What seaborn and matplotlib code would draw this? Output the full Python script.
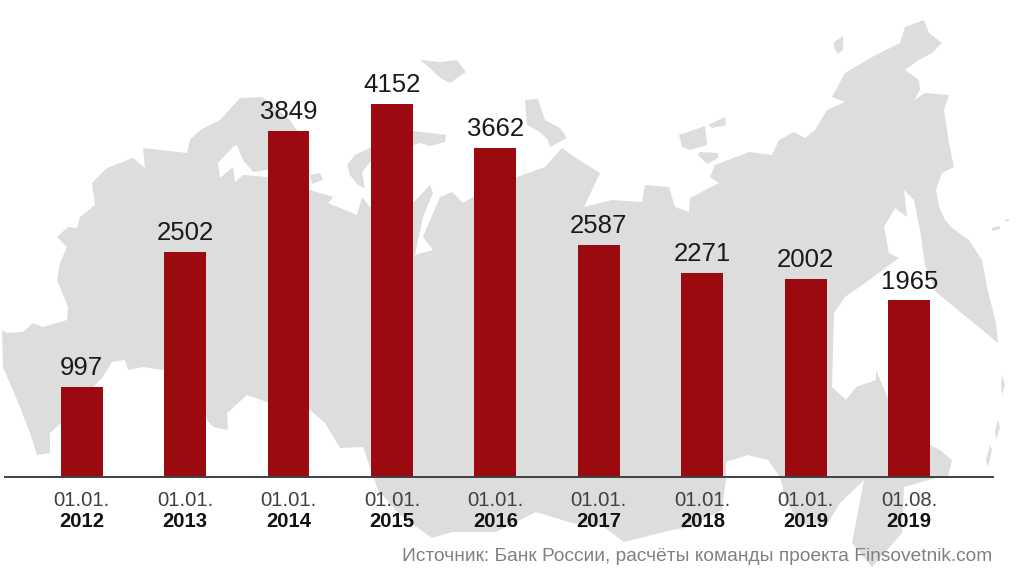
import matplotlib
matplotlib.use('Agg')
import pandas as pd
import seaborn as sns
import matplotlib.pyplot as plt

# данные
dates = ['01.01.', '01.01.', '01.01.', '01.01.', '01.01.', '01.01.', '01.01.', '01.01.', '01.08.']
years = ['2012', '2013', '2014', '2015', '2016', '2017', '2018', '2019', '2019']
bar_heights = [997, 2502, 3849, 4152, 3662, 2587, 2271, 2204, 1965]  # высота столбцов как нарисовано
value_labels = ['997', '2502', '3849', '4152', '3662', '2587', '2271', '2002', '1965']
source = 'Источник: Банк России, расчёты команды проекта Finsovetnik.com'

# контур карты на фоне, в пикселях картинки
map_outline = [
    (2, 330), (7, 333), (23, 332), (33, 323), (43, 327), (67, 320), (68, 307), (57, 280), (60, 263), (67, 247),
    (57, 237), (68, 227), (77, 228), (80, 217), (95, 205), (92, 183), (107, 168), (133, 158), (145, 168), (143, 148),
    (187, 153), (190, 140), (200, 130), (220, 120), (240, 98), (262, 97), (290, 120), (300, 135), (267, 170), (253, 172),
    (243, 160), (237, 145), (233, 147), (218, 163), (220, 178), (233, 167), (235, 182), (243, 175), (267, 177), (310, 190),
    (333, 197), (328, 203), (357, 215), (362, 197), (370, 207), (413, 203), (430, 185), (433, 193), (423, 217), (415, 255),
    (433, 250), (423, 237), (440, 197), (452, 192), (463, 203), (473, 197), (480, 190), (517, 177), (545, 167), (562, 148),
    (579, 160), (600, 173), (584, 207), (612, 200), (642, 202), (645, 185), (669, 187), (675, 207), (689, 212), (690, 198),
    (719, 183), (710, 177), (715, 165), (749, 152), (772, 155), (779, 140), (794, 132), (805, 138), (815, 130), (827, 110),
    (845, 102), (832, 97), (845, 73), (872, 57), (900, 43), (905, 27), (924, 20), (929, 33), (942, 43), (932, 53),
    (919, 60), (905, 70), (919, 80), (920, 90), (914, 100), (925, 93), (949, 95), (944, 110), (949, 143), (954, 167),
    (942, 173), (936, 190), (939, 207), (945, 220), (952, 228), (969, 240), (982, 260), (987, 287), (996, 323), (998, 343),
    (936, 292), (925, 265), (920, 230), (914, 200), (904, 190), (907, 217), (895, 208), (884, 227), (889, 253), (899, 258),
    (865, 283), (845, 297), (834, 313), (832, 387), (846, 400), (856, 387), (876, 380), (876, 370), (890, 403), (920, 440),
    (930, 445), (940, 450), (952, 460), (948, 477), (936, 478), (904, 487), (902, 533), (872, 567), (852, 543), (864, 480),
    (840, 503), (828, 523), (800, 525), (786, 500), (780, 477), (768, 460), (748, 455), (726, 462), (726, 480), (722, 510),
    (690, 527), (672, 530), (624, 542), (604, 527), (572, 523), (536, 512), (496, 532), (452, 532), (432, 538), (400, 515),
    (378, 490), (372, 473), (363, 447), (340, 448), (325, 423), (310, 410), (267, 402), (247, 395), (227, 413), (228, 430),
    (213, 427), (207, 420), (200, 375), (163, 370), (143, 367), (128, 370), (125, 360), (112, 362), (102, 378), (80, 400),
    (61, 423), (50, 433), (50, 453), (37, 455), (30, 433), (20, 407), (3, 367),
]
islands = [
    [(372, 147), (355, 155), (347, 165), (350, 175), (358, 185), (365, 188), (362, 172), (372, 160)],
    [(310, 175), (320, 173), (323, 180), (312, 184)],
    [(413, 131), (430, 133), (446, 135), (445, 142), (430, 146), (420, 143), (413, 145)],
    [(420, 60), (440, 62), (457, 60), (466, 72), (450, 83), (440, 78), (430, 68)],
    [(525, 100), (538, 99), (545, 120), (560, 128), (567, 138), (550, 147), (548, 140), (540, 132), (527, 125)],
    [(679, 135), (705, 126), (707, 145), (690, 150), (682, 147)],
    [(708, 125), (725, 117), (726, 125), (712, 128)],
    [(700, 152), (718, 153), (718, 158), (707, 164), (698, 155)],
    [(834, 42), (843, 36), (843, 50), (838, 54), (834, 48)],
    [(992, 228), (1000, 226), (1000, 229), (992, 231)],
    [(1004, 220), (1010, 219), (1008, 222)],
    [(1002, 375), (1005, 385), (1002, 395), (1001, 385)],
    [(998, 420), (1000, 428), (996, 440), (995, 430)],
    [(990, 445), (992, 450), (988, 467), (986, 460)],
]

sns.set_theme(style='white')
plt.rcParams['font.family'] = ['Liberation Sans', 'DejaVu Sans']

fig = plt.figure(figsize=(10.24, 5.72), dpi=100)

# фон с картой
bg = fig.add_axes([0, 0, 1, 1], zorder=0)
bg.set_xlim(0, 1024)
bg.set_ylim(572, 0)
bg.axis('off')
bg.fill(*zip(*map_outline), color='#dddddd', lw=0)
for isl in islands:
    bg.fill(*zip(*isl), color='#dddddd', lw=0)

# столбцы
ax = fig.add_axes([5 / 1024, 95 / 572, 988 / 1024, 477 / 572], zorder=1)
ax.patch.set_alpha(0)
df = pd.DataFrame({'date': [d + y for d, y in zip(dates, years)], 'value': bar_heights})
sns.barplot(data=df, x='date', y='value', color='#9b0a0e', saturation=1, width=0.405, linewidth=0, ax=ax)
ax.set_xlim(-0.74, 8.81)
ax.set_ylim(0, 5309)
ax.bar_label(ax.containers[0], labels=value_labels, padding=5, fontsize=18.5, color='#1a1a1a')

ax.set_xlabel('')
ax.set_ylabel('')
ax.set_yticks([])
ax.set_xticks(range(len(dates)))
ax.set_xticklabels(dates, fontsize=14.6, color='#404040')
ax.tick_params(axis='x', length=0, pad=10)
for i, y in enumerate(years):
    ax.annotate(y, (i, 0), xycoords=('data', 'axes fraction'), xytext=(0, -35), textcoords='offset pixels',
                ha='center', va='top', fontsize=14.6, fontweight='bold', color='#111111')
for s in ['top', 'left', 'right']:
    ax.spines[s].set_visible(False)
ax.spines['bottom'].set_color('#404040')
ax.spines['bottom'].set_linewidth(1.4)

fig.text(992 / 1024, 7 / 572, source, ha='right', va='bottom', fontsize=13.8, color='#808080')

fig.savefig('out.png', dpi=100)
